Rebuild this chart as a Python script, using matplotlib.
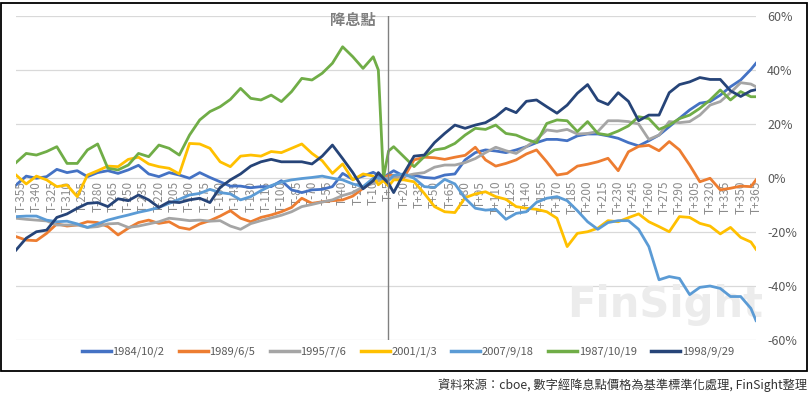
import numpy as np
import matplotlib
matplotlib.use("Agg")
import matplotlib.pyplot as plt
from matplotlib.lines import Line2D
from matplotlib.patches import Rectangle

plt.rcParams["font.family"] = ["Noto Sans CJK TC", "DejaVu Sans"]

# trading days relative to the rate cut (T0)
days = list(range(-360, -9, 10)) + [-5, 0, 5] + list(range(10, 361, 10)) + [365]

s1984 = [-2.6, 0.7, -0.1, 0.5, 3.2, 2.0, 2.7, 0.5, 2.0, 2.7, 1.7, 3.0, 4.7, 1.5, 0.5, 2.0, 1.1, -0.1, 2.0,
         0.2, -1.4, -3.0, -3.0, -3.6, -3.2, -3.2, -1.0, -4.4, -5.4, -4.4, -4.2, -3.2, 1.7, -0.5, 0.7, 2.1,
         1.0, 0.2, 1.5,
         2.7, 0.7, 1.0, 0.2, -0.1, 1.1, 1.5, 6.7, 9.4, 10.4, 10.0, 9.4, 10.4, 11.6, 13.1, 14.3, 14.3, 13.8, 15.6,
         16.3, 16.3, 15.6, 14.7, 13.1, 11.9, 13.8, 15.9, 19.0, 22.1, 25.2, 27.7, 28.3, 30.7, 33.8, 36.3, 40.2,
         42.5]
s1989 = [-21.7, -23.0, -23.2, -20.5, -17.0, -17.8, -17.4, -16.2, -16.5, -18.0, -21.1, -18.6, -16.5, -15.6, -16.8, -16.2, -18.3, -19.0, -17.0,
         -15.8, -14.1, -12.1, -14.9, -16.2, -14.6, -13.7, -12.5, -10.9, -7.5, -9.4, -8.8, -8.4, -8.1, -6.7, -3.8, -1.4,
         -1.0, 0.0, 1.0,
         1.0, 0.1, 6.7, 7.7, 7.5, 6.9, 7.7, 8.4, 11.4, 6.7, 4.4, 5.4, 6.7, 8.9, 10.4, 6.0, 1.1, 1.7, 4.4,
         5.1, 6.0, 7.3, 2.7, 9.7, 11.7, 12.1, 10.1, 13.5, 10.4, 4.8, -1.4, -0.1, -4.4, -3.8, -3.0, -3.2,
         -0.7]
s1995 = [-14.9, -15.3, -15.6, -15.9, -17.4, -17.4, -17.4, -18.3, -18.0, -17.0, -16.8, -18.3, -17.8, -17.0, -16.2, -14.9, -15.3, -15.8, -15.6,
         -16.0, -15.8, -17.8, -19.0, -16.9, -15.8, -14.8, -13.8, -12.5, -10.6, -9.8, -8.9, -8.1, -6.5, -5.4, -3.2, -2.0,
         -1.0, -0.2, 0.0,
         -0.1, 0.7, 1.5, 2.0, 4.0, 4.8, 4.8, 5.7, 7.2, 9.4, 11.4, 10.1, 9.1, 11.6, 14.3, 17.8, 17.3, 18.0, 16.3,
         16.5, 17.2, 21.2, 21.2, 20.9, 20.0, 14.3, 15.9, 20.9, 20.5, 20.9, 23.3, 27.0, 28.3, 31.6, 35.3, 34.8,
         33.8]
s2001 = [1.1, -2.2, 0.7, -0.7, -3.2, -2.6, -6.9, 1.1, 2.7, 4.4, 4.2, 6.9, 7.7, 5.2, 4.2, 3.6, 1.5, 12.8, 12.6,
         11.0, 6.0, 4.2, 8.1, 8.5, 8.1, 9.8, 9.4, 11.0, 12.6, 9.1, 6.4, 1.7, 5.2, -0.7, 1.5, 0.7,
         -2.5, -1.0, -3.0,
         -0.7, -0.7, -1.4, -5.7, -10.6, -12.5, -12.8, -7.3, -5.9, -5.1, -6.9, -7.9, -10.6, -11.2, -11.6, -12.5, -14.9, -25.4, -20.5,
         -19.9, -18.6, -15.8, -16.2, -14.7, -13.3, -16.2, -18.0, -19.9, -14.3, -14.6, -16.8, -17.8, -20.7, -18.3, -22.0, -23.7,
         -26.4]
s2007 = [-14.3, -14.1, -14.1, -15.6, -16.2, -16.0, -17.0, -18.3, -17.0, -15.6, -14.6, -13.7, -12.7, -11.9, -10.9, -9.4, -7.9, -6.3, -5.7,
         -4.2, -5.4, -5.9, -8.1, -6.9, -4.7, -2.8, -1.5, -0.7, -0.2, 0.2, 0.7, -0.1, -0.7, -2.2, -3.2, -0.1,
         0.0, -0.2, -1.0,
         1.0, 1.5, -0.1, -3.2, -3.5, -0.5, -2.2, -7.5, -11.2, -11.9, -11.6, -15.3, -13.1, -12.5, -9.0, -7.5, -6.9, -8.4, -12.1,
         -16.2, -19.0, -16.5, -15.8, -15.8, -19.0, -25.4, -37.7, -36.5, -37.2, -43.2, -40.5, -40.0, -40.9, -43.9, -43.9, -48.3,
         -52.8]
s1987 = [5.7, 9.1, 8.5, 9.8, 11.6, 5.4, 5.4, 10.4, 12.6, 3.6, 3.0, 4.8, 9.1, 7.9, 12.2, 11.0, 8.5, 15.9, 21.5,
         24.6, 26.4, 29.1, 33.2, 29.5, 28.9, 30.7, 28.3, 32.0, 36.9, 36.3, 38.8, 42.5, 48.6, 44.9, 40.6, 44.9,
         40.0, 0.0, 10.0,
         11.6, 7.9, 4.2, 7.9, 10.4, 11.0, 12.8, 15.9, 18.4, 18.0, 19.6, 16.5, 15.9, 14.3, 13.1, 20.2, 21.5, 21.2, 17.2,
         20.9, 16.5, 15.9, 17.4, 19.3, 22.7, 22.0, 18.0, 19.6, 22.0, 23.3, 25.8, 28.9, 32.6, 28.9, 32.0, 30.1,
         30.1]
s1998 = [-26.7, -22.3, -19.9, -19.3, -14.6, -13.3, -11.2, -9.4, -9.1, -10.6, -7.7, -8.4, -6.3, -8.1, -10.9, -8.8, -9.1, -8.1, -7.5,
         -9.1, -3.5, -0.7, 1.5, 4.4, 6.0, 6.9, 6.0, 6.0, 6.0, 5.2, 8.1, 12.2, 7.2, 2.0, -4.0, -1.0,
         2.0, -0.1, -2.0,
         -5.4, 1.7, 8.1, 8.5, 13.1, 16.5, 19.6, 18.4, 19.6, 20.5, 22.7, 25.8, 24.2, 28.4, 28.9, 26.4, 24.0, 27.0, 31.4,
         34.6, 28.8, 27.2, 31.6, 28.4, 21.2, 23.3, 23.3, 31.6, 34.6, 35.6, 37.2, 36.5, 36.5, 32.3, 30.2, 32.3,
         32.7]

labels = ["1984/10/2", "1989/6/5", "1995/7/6", "2001/1/3", "2007/9/18", "1987/10/19", "1998/9/29"]
series = [s1984, s1989, s1995, s2001, s2007, s1987, s1998]
colors = ["#4472C4", "#ED7D31", "#A5A5A5", "#FFC000", "#5B9BD5", "#70AD47", "#264478"]

tick_days = list(range(-355, 366, 15))
y_ticks = [-60, -40, -20, 0, 20, 40, 60]

fig = plt.figure(figsize=(8.12, 3.98), dpi=100)
ax = fig.add_axes([16 / 812, 1 - 340 / 398, 740 / 812, 324 / 398])
ax.set_facecolor("none")

for vals, c, lab in zip(series, colors, labels):
    ax.plot(days, vals, color=c, lw=2.0, label=lab, solid_joinstyle="round", zorder=2)

ax.set_xlim(-360, 365)
ax.set_ylim(-60, 60)
ax.set_axisbelow(True)
ax.grid(axis="y", color="#d9d9d9", lw=0.9)

for s in ax.spines.values():
    s.set_visible(False)
ax.spines["bottom"].set_position(("data", 0))

ax.set_xticks(tick_days)
ax.set_xticklabels([f"T{d:+d}" for d in tick_days], rotation=90, fontsize=8.5, color="#8c8c8c")
ax.tick_params(axis="x", length=0, pad=2)

ax.yaxis.tick_right()
ax.set_yticks(y_ticks)
ax.set_yticklabels([f"{v}%" for v in y_ticks], fontsize=9, color="#595959")
ax.tick_params(axis="y", length=0, pad=8)

# rate cut marker
ax.axvline(4, color="#808080", lw=1.0, zorder=3)
ax.text(-8, 58.5, "降息點", ha="right", va="center", fontsize=11, fontweight="bold", color="#7f7f7f")

# faint watermark
ax.text(665 / 812, 1 - 305 / 398, "FinSight", transform=fig.transFigure, ha="center", va="center",
        fontsize=30, fontweight="bold", color="#ececec", family="DejaVu Sans", zorder=1)

handles = [Line2D([0], [0], color=c, lw=2.5) for c in colors]
leg = fig.legend(handles, labels, loc="center", bbox_to_anchor=(408 / 812, 1 - 352 / 398), ncol=7,
                 frameon=False, fontsize=8, handlelength=2.6, handletextpad=0.15, columnspacing=1.3)
for t in leg.get_texts():
    t.set_color("#595959")

fig.patches.append(Rectangle((1 / 812, 1 - 371 / 398), 806 / 812, 368 / 398, transform=fig.transFigure,
                             fill=False, edgecolor="black", lw=1.3))

fig.text(807 / 812, 1 - 385 / 398, "資料來源：cboe, 數字經降息點價格為基準標準化處理, FinSight整理",
         ha="right", va="center", fontsize=8.8, color="#333333")

fig.savefig("out.png", dpi=100)
